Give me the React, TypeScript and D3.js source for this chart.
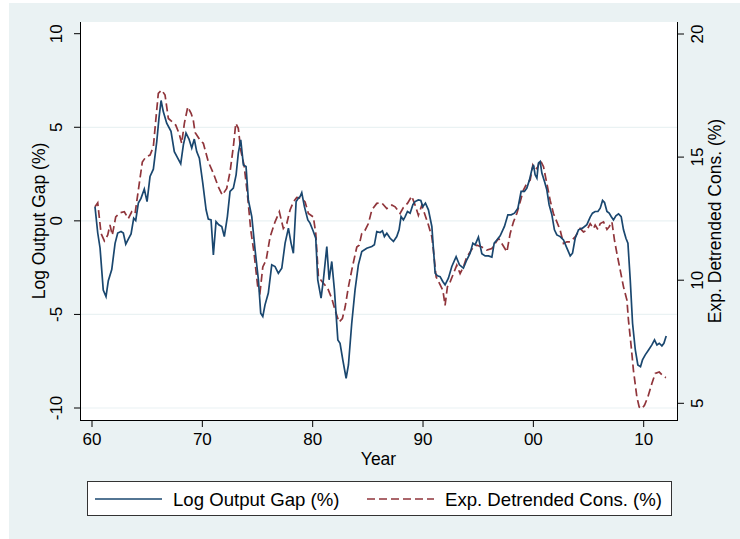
import React from "react";
import * as d3 from "d3";

const gapYears = [60.27,60.52,60.73,61.02,61.27,61.48,61.79,62.09,62.33,62.63,62.84,63.06,63.29,63.54,63.78,63.96,64.2,64.44,64.74,64.99,65.26,65.56,65.87,66.07,66.26,66.46,66.77,67.16,67.46,67.77,68.04,68.28,68.52,68.79,69.04,69.27,69.49,69.73,70.04,70.34,70.54,70.79,71.0,71.24,71.49,71.76,71.99,72.27,72.51,72.81,73.06,73.26,73.48,73.72,73.96,74.17,74.48,74.78,75.08,75.29,75.48,75.68,75.98,76.29,76.59,76.89,77.2,77.5,77.8,78.04,78.25,78.5,78.7,78.86,79.01,79.25,79.56,79.76,80.06,80.28,80.46,80.76,80.97,81.28,81.49,81.73,81.97,82.28,82.48,82.73,83.03,83.24,83.54,83.84,84.14,84.45,84.9,85.36,85.59,85.81,86.11,86.32,86.5,86.72,87.02,87.32,87.62,87.83,88.01,88.22,88.38,88.59,88.83,89.08,89.28,89.58,89.8,89.98,90.22,90.49,90.8,91.1,91.31,91.55,91.79,92.0,92.3,92.61,93.0,93.3,93.66,93.97,94.27,94.52,94.72,95.02,95.33,95.63,95.93,96.24,96.45,96.69,96.99,97.38,97.69,97.99,98.29,98.6,98.89,99.19,99.41,99.65,99.86,100.01,100.16,100.32,100.46,100.62,100.77,101.01,101.22,101.43,101.68,101.91,102.13,102.43,102.73,103.04,103.34,103.55,103.79,104.09,104.45,104.85,105.15,105.36,105.6,105.85,106.06,106.27,106.45,106.67,106.87,107.05,107.26,107.48,107.72,107.96,108.17,108.39,108.57,108.78,108.99,109.24,109.47,109.71,109.89,110.14,110.44,110.74,110.98,111.2,111.41,111.65,111.83,112.04];
const gapValues = [0.76,-0.65,-1.45,-3.7,-4.05,-3.2,-2.6,-1.2,-0.65,-0.57,-0.65,-1.25,-0.98,-0.7,0.14,0.02,0.95,1.2,1.7,1.03,2.37,2.76,4.24,5.49,6.43,5.84,5.22,4.78,3.7,3.35,3.05,4.06,4.69,4.37,3.89,4.37,3.7,3.35,2.01,0.59,0.09,0.05,-1.82,-0.04,-0.21,-0.3,-0.84,0.23,1.57,1.75,2.46,3.62,4.33,2.99,2.9,1.12,0.23,-1.55,-3.15,-4.93,-5.11,-4.49,-3.86,-2.35,-2.44,-2.8,-2.53,-1.19,-0.39,-1.19,-1.73,1.03,1.21,1.3,1.51,0.76,0.05,-0.12,-0.57,-0.93,-3.15,-4.13,-3.15,-1.37,-3.15,-2.17,-3.69,-6.36,-6.54,-7.43,-8.41,-7.7,-5.47,-3.69,-2.35,-1.64,-1.46,-1.37,-1.28,-0.57,-0.62,-0.53,-0.84,-0.66,-0.93,-1.1,-0.84,-0.48,0.23,0.05,0.23,0.5,0.41,0.86,1.03,1.12,1.09,0.76,0.95,0.59,-0.3,-2.8,-2.94,-2.98,-3.24,-3.42,-3.06,-2.44,-1.91,-2.35,-2.53,-2.08,-1.73,-1.19,-1.28,-0.87,-1.76,-1.87,-1.87,-1.94,-1.19,-1.02,-0.8,-0.3,0.32,0.32,0.41,0.68,1.57,1.57,1.75,2.19,2.73,2.99,2.46,2.28,3.08,3.17,2.55,2.1,1.66,0.86,0.32,-0.48,-0.75,-0.84,-1.02,-1.46,-1.87,-1.73,-0.93,-0.48,-0.39,-0.2,0.2,0.41,0.5,0.5,0.68,1.09,0.98,0.5,0.41,0.23,0.05,0.27,0.37,0.23,-0.48,-0.93,-1.19,-3.15,-5.47,-6.9,-7.7,-7.79,-7.43,-7.16,-6.9,-6.63,-6.36,-6.63,-6.54,-6.68,-6.54,-6.15];

const consYears = [60.27,60.52,60.82,61.12,61.42,61.63,61.84,62.15,62.54,62.93,63.29,63.6,63.9,64.2,64.56,64.87,65.26,65.56,65.78,66.01,66.32,66.62,66.92,67.28,67.59,67.89,68.13,68.37,68.68,68.98,69.18,69.34,69.79,70.09,70.54,71.0,71.45,71.81,72.21,72.51,72.81,73.03,73.26,73.48,73.78,74.08,74.39,74.69,75.02,75.23,75.48,75.78,76.14,76.59,76.98,77.34,77.65,77.95,78.25,78.56,79.01,79.31,79.61,80.06,80.28,80.52,80.88,81.37,81.73,82.03,82.39,82.69,82.94,83.24,83.6,84.0,84.21,84.45,84.75,85.05,85.36,85.81,86.26,86.72,87.17,87.47,87.92,88.22,88.59,88.98,89.28,89.58,89.89,90.19,90.49,90.8,90.94,91.19,91.49,91.8,92.0,92.21,92.46,92.76,93.06,93.36,93.66,93.97,94.27,94.57,94.88,95.33,95.78,96.24,96.54,96.84,97.14,97.6,97.9,98.2,98.5,98.8,99.1,99.41,99.71,99.95,100.16,100.41,100.62,100.92,101.22,101.52,101.82,102.13,102.43,102.73,103.04,103.34,103.79,104.24,104.54,104.85,105.15,105.45,105.6,105.85,106.06,106.36,106.67,106.87,107.12,107.35,107.57,107.87,108.17,108.48,108.62,108.87,109.07,109.38,109.59,109.84,110.07,110.38,110.74,111.04,111.41,111.7,112.01];
const consValues = [12.98,13.14,11.9,11.6,11.83,12.24,11.83,12.57,12.74,12.78,12.5,12.78,12.7,13.66,14.8,15.0,15.08,15.42,16.5,17.59,17.72,17.52,16.57,16.43,16.3,15.96,15.56,16.37,17.04,16.78,16.5,16.0,15.69,15.56,14.81,14.34,13.79,13.46,13.73,14.4,15.42,16.37,16.17,15.28,14.67,13.52,12.03,11.09,9.73,9.52,10.54,10.81,11.76,12.37,12.78,12.1,12.3,12.85,13.18,13.36,13.32,13.18,12.71,12.57,11.9,10.13,9.93,9.66,9.26,8.78,8.3,8.44,8.91,9.73,10.54,11.35,11.42,11.9,12.03,12.3,12.85,13.12,13.14,12.91,13.05,12.98,12.71,12.95,13.12,13.41,13.05,12.64,13.05,12.64,12.24,11.76,11.22,10.13,9.87,9.59,8.98,9.73,9.93,10.27,10.61,10.27,10.54,10.95,11.15,11.35,11.42,11.35,11.22,11.29,11.49,11.7,11.49,11.15,11.9,12.37,12.71,13.18,13.66,13.93,14.07,14.67,14.47,14.61,14.88,14.61,13.93,13.25,12.71,12.37,12.03,11.49,11.56,11.56,11.76,12.1,11.96,12.03,12.3,12.1,12.24,12.06,12.3,12.37,12.06,12.17,12.37,11.63,11.09,10.41,9.73,9.19,8.37,7.29,6.34,5.26,4.85,4.78,4.92,5.26,5.8,6.21,6.27,6.14,6.04];

const xTicks = [60, 70, 80, 90, 100, 110];
const leftTicks = [-10, -5, 0, 5, 10];
const leftGrid = [-10, -5, 0, 5];
const rightTicks = [5, 10, 15, 20];
const seriesNames = ["Log Output Gap (%)", "Exp. Detrended Cons. (%)"];
const axisTitles = { x: "Year", left: "Log Output Gap (%)", right: "Exp. Detrended Cons. (%)" };

const BLUE = "#1A476F";
const RED = "#90353B";
const BG = "#EAF2F3";
const FONT = "'Liberation Sans', Arial, Helvetica, sans-serif";

export default function App() {
  const W = 740, H = 539;
  const plot = { left: 80, right: 677, top: 22, bottom: 420 };
  const x = d3.scaleLinear().domain([60, 110]).range([92, 643.7]);
  const yL = d3.scaleLinear().domain([-10, 10]).range([408, 33.7]);
  const yR = d3.scaleLinear().domain([5, 20]).range([403.3, 34]);

  const gapData = gapYears.map((yr, i) => [yr, gapValues[i]] as [number, number]);
  const consData = consYears.map((yr, i) => [yr, consValues[i]] as [number, number]);
  const gapLine = d3.line<[number, number]>().x(d => x(d[0])).y(d => yL(d[1]));
  const consLine = d3.line<[number, number]>().x(d => x(d[0])).y(d => yR(d[1]));

  const fmtYear = (t: number) => String(t % 100).padStart(2, "0");

  return (
    <div style={{ position: "absolute", left: 0, top: 0 }}>
      <svg width={W} height={H} style={{ display: "block", fontFamily: FONT }}>
        <rect x={0} y={0} width={W} height={H} fill="#ffffff" />
        <rect x={9} y={3} width={W - 9} height={H - 3} fill={BG} />
        <rect x={plot.left} y={plot.top} width={plot.right - plot.left} height={plot.bottom - plot.top} fill="#ffffff" />
        {leftGrid.map(v => (
          <line key={"g" + v} x1={plot.left} x2={plot.right} y1={yL(v)} y2={yL(v)} stroke={BG} strokeWidth={1.2} />
        ))}
        <path d={consLine(consData) || ""} fill="none" stroke={RED} strokeWidth={1.7} strokeDasharray="8,4" />
        <path d={gapLine(gapData) || ""} fill="none" stroke={BLUE} strokeWidth={1.7} />
        <line x1={plot.left + 0.5} x2={plot.left + 0.5} y1={plot.top} y2={plot.bottom} stroke="#000" strokeWidth={1} />
        <line x1={plot.right + 0.5} x2={plot.right + 0.5} y1={plot.top} y2={plot.bottom} stroke="#000" strokeWidth={1} />
        <line x1={plot.left} x2={plot.right + 1} y1={plot.bottom + 0.5} y2={plot.bottom + 0.5} stroke="#000" strokeWidth={1} />
        {leftTicks.map(v => (
          <g key={"l" + v}>
            <line x1={74} x2={plot.left} y1={yL(v)} y2={yL(v)} stroke="#000" strokeWidth={1} />
            <text transform={`translate(62,${yL(v)}) rotate(-90)`} textAnchor="middle" fontSize={17} fill="#000">{v}</text>
          </g>
        ))}
        {rightTicks.map(v => (
          <g key={"r" + v}>
            <line x1={plot.right} x2={684} y1={yR(v)} y2={yR(v)} stroke="#000" strokeWidth={1} />
            <text transform={`translate(703,${yR(v)}) rotate(-90)`} textAnchor="middle" fontSize={17} fill="#000">{v}</text>
          </g>
        ))}
        {xTicks.map(v => (
          <g key={"x" + v}>
            <line x1={x(v)} x2={x(v)} y1={plot.bottom} y2={427} stroke="#000" strokeWidth={1} />
            <text x={x(v)} y={445} textAnchor="middle" fontSize={17} fill="#000">{fmtYear(v)}</text>
          </g>
        ))}
        <text x={(plot.left + plot.right) / 2} y={465} textAnchor="middle" fontSize={17.5} fill="#000">{axisTitles.x}</text>
        <text transform={`translate(44.5,${(plot.top + plot.bottom) / 2}) rotate(-90)`} textAnchor="middle" fontSize={17.5} fill="#000">{axisTitles.left}</text>
        <text transform={`translate(721,${(plot.top + plot.bottom) / 2}) rotate(-90)`} textAnchor="middle" fontSize={17.5} fill="#000">{axisTitles.right}</text>
        <rect x={87.5} y={481.5} width={584} height={34} fill="#ffffff" stroke="#333" strokeWidth={1} />
        <line x1={95} x2={162} y1={499} y2={499} stroke={BLUE} strokeWidth={1.7} />
        <text x={173} y={505.5} fontSize={18.6} fill="#000">{seriesNames[0]}</text>
        <line x1={367} x2={434} y1={499} y2={499} stroke={RED} strokeWidth={1.7} strokeDasharray="8,4" />
        <text x={445} y={505.5} fontSize={18.6} fill="#000">{seriesNames[1]}</text>
      </svg>
    </div>
  );
}
